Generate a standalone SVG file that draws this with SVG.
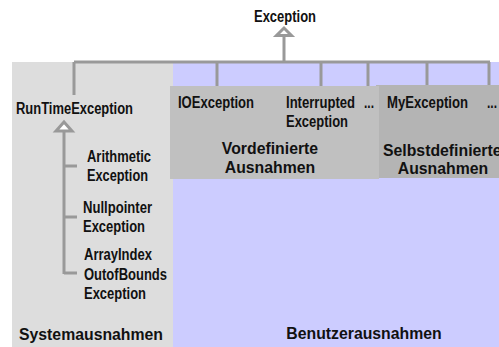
<svg xmlns="http://www.w3.org/2000/svg" width="499" height="347" viewBox="0 0 499 347">
<style>
.n{font-family:"Liberation Sans",Arial,sans-serif;font-weight:bold;font-size:16px;fill:#111;}
.t{font-family:"Liberation Sans",Arial,sans-serif;font-weight:bold;font-size:15.8px;fill:#111;}
.c{fill:none;stroke:#999;stroke-width:3;}
.a{fill:#fff;stroke:#999;stroke-width:3;stroke-linejoin:miter;}
</style>
<g id="bg-system"><rect x="12" y="62" width="161" height="285" fill="#DDDDDD"/></g>
<g id="bg-user"><rect x="173" y="62" width="326" height="285" fill="#CCCCFF"/></g>
<g id="selbst"><rect x="376" y="85" width="123" height="93" fill="#B4B4B4"/>
<text class="t" x="383" y="156">Selbstdefinierte</text>
<text class="t" x="443" y="174" text-anchor="middle">Ausnahmen</text></g>
<g id="vordef"><rect x="170" y="86" width="209" height="93" fill="#C0C0C0"/>
<text class="t" x="270" y="154" text-anchor="middle">Vordefinierte</text>
<text class="t" x="270" y="173" text-anchor="middle">Ausnahmen</text></g>
<g id="connectors">
<path class="c" d="M284 35V62M74 62H490M74 62V95M217 62V86M321 62V86M368 62V86M427 62V85M489 62V85"/>
<path class="a" d="M284 28L276.5 35.5H291.5Z"/>
<path class="c" d="M64 132V274M64 166H77M64 217H77M64 273H77"/>
<path class="a" d="M64 122L56 131H72Z"/>
</g>
<g id="exception"><text class="n" x="254" y="22" textLength="62" lengthAdjust="spacingAndGlyphs">Exception</text></g>
<g id="runtime"><text class="n" x="16" y="114" textLength="117" lengthAdjust="spacingAndGlyphs">RunTimeException</text></g>
<g id="io"><text class="n" x="178" y="108" textLength="76" lengthAdjust="spacingAndGlyphs">IOException</text></g>
<g id="interrupted"><text class="n" x="286" y="108" textLength="69" lengthAdjust="spacingAndGlyphs">Interrupted</text><text class="n" x="286" y="127" textLength="62" lengthAdjust="spacingAndGlyphs">Exception</text></g>
<g id="more1"><text class="n" x="364" y="108" textLength="10" lengthAdjust="spacingAndGlyphs">...</text></g>
<g id="my"><text class="n" x="387" y="108" textLength="81" lengthAdjust="spacingAndGlyphs">MyException</text></g>
<g id="more2"><text class="n" x="487" y="108" textLength="10" lengthAdjust="spacingAndGlyphs">...</text></g>
<g id="arith"><text class="n" x="87" y="162" textLength="64" lengthAdjust="spacingAndGlyphs">Arithmetic</text><text class="n" x="87" y="181" textLength="61" lengthAdjust="spacingAndGlyphs">Exception</text></g>
<g id="nullp"><text class="n" x="83" y="213" textLength="69" lengthAdjust="spacingAndGlyphs">Nullpointer</text><text class="n" x="83" y="232" textLength="62" lengthAdjust="spacingAndGlyphs">Exception</text></g>
<g id="aioob"><text class="n" x="84" y="260" textLength="68" lengthAdjust="spacingAndGlyphs">ArrayIndex</text><text class="n" x="84" y="280" textLength="83" lengthAdjust="spacingAndGlyphs">OutofBounds</text><text class="n" x="84" y="299" textLength="62" lengthAdjust="spacingAndGlyphs">Exception</text></g>
<g id="lbl-system"><text class="t" x="91" y="340" text-anchor="middle">Systemausnahmen</text></g>
<g id="lbl-user"><text class="t" x="364" y="339" text-anchor="middle">Benutzerausnahmen</text></g>
</svg>
